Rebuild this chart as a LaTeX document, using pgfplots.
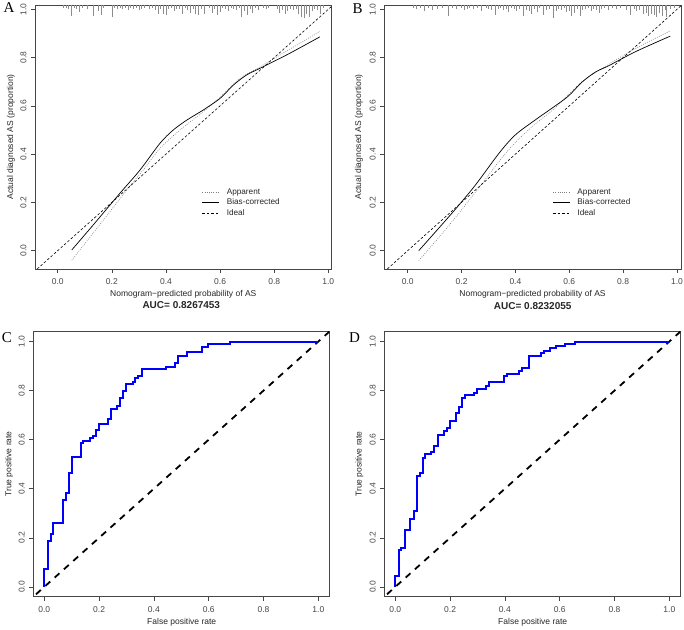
\documentclass[border=0pt]{standalone}
\usepackage{fontspec}
\setmainfont{Liberation Sans}
\newfontfamily\seriffont{Liberation Serif}
\usepackage{pgfplots}
\usepackage{pgfplotstable}
\pgfplotsset{compat=1.18}
\definecolor{rblue}{RGB}{0,0,255}
\definecolor{axgray}{RGB}{70,70,70}
\definecolor{rug}{RGB}{140,140,140}
\definecolor{appgray}{RGB}{125,125,125}

\pgfplotstableread{
x v
0.020 -0.012
0.030 -0.012
0.040 -0.017
0.050 -0.046
0.060 -0.012
0.070 -0.017
0.080 -0.029
0.090 -0.012
0.110 -0.017
0.130 -0.046
0.150 -0.025
0.160 -0.041
0.170 -0.012
0.200 -0.050
0.210 -0.012
0.220 -0.017
0.230 -0.012
0.240 -0.017
0.250 -0.012
0.260 -0.021
0.270 -0.012
0.280 -0.017
0.290 -0.012
0.300 -0.021
0.310 -0.017
0.320 -0.012
0.340 -0.017
0.350 -0.012
0.360 -0.021
0.370 -0.037
0.380 -0.017
0.390 -0.037
0.400 -0.041
0.410 -0.017
0.420 -0.012
0.430 -0.025
0.440 -0.017
0.450 -0.017
0.460 -0.037
0.470 -0.012
0.480 -0.021
0.490 -0.033
0.500 -0.017
0.510 -0.037
0.520 -0.041
0.530 -0.017
0.540 -0.037
0.560 -0.012
0.570 -0.033
0.580 -0.017
0.590 -0.041
0.600 -0.029
0.610 -0.012
0.620 -0.017
0.630 -0.025
0.640 -0.012
0.650 -0.017
0.660 -0.021
0.670 -0.012
0.680 -0.050
0.690 -0.025
0.700 -0.041
0.710 -0.017
0.720 -0.033
0.730 -0.012
0.740 -0.021
0.760 -0.012
0.770 -0.017
0.780 -0.012
0.810 -0.017
0.820 -0.033
0.830 -0.021
0.840 -0.037
0.850 -0.025
0.860 -0.017
0.870 -0.021
0.880 -0.017
0.890 -0.037
0.900 -0.050
0.910 -0.054
0.920 -0.037
0.930 -0.050
0.940 -0.025
0.950 -0.017
0.960 -0.021
0.970 -0.037
0.980 -0.012
}\rugA

\pgfplotstableread{
x v
0.020 -0.012
0.030 -0.017
0.045 -0.012
0.060 -0.025
0.075 -0.012
0.090 -0.021
0.110 -0.017
0.130 -0.012
0.150 -0.046
0.165 -0.012
0.180 -0.017
0.200 -0.012
0.210 -0.021
0.220 -0.017
0.230 -0.012
0.245 -0.017
0.260 -0.012
0.275 -0.025
0.290 -0.012
0.300 -0.017
0.310 -0.021
0.324 -0.041
0.335 -0.017
0.345 -0.012
0.355 -0.021
0.365 -0.017
0.375 -0.029
0.385 -0.012
0.395 -0.017
0.405 -0.025
0.415 -0.017
0.430 -0.046
0.440 -0.021
0.450 -0.025
0.460 -0.037
0.470 -0.017
0.480 -0.029
0.490 -0.012
0.504 -0.041
0.515 -0.021
0.525 -0.017
0.541 -0.054
0.550 -0.025
0.560 -0.017
0.570 -0.021
0.580 -0.012
0.590 -0.029
0.600 -0.025
0.609 -0.046
0.620 -0.033
0.630 -0.017
0.640 -0.046
0.650 -0.021
0.660 -0.017
0.670 -0.012
0.680 -0.025
0.690 -0.017
0.700 -0.021
0.710 -0.033
0.720 -0.017
0.730 -0.012
0.745 -0.021
0.760 -0.012
0.775 -0.017
0.790 -0.012
0.810 -0.021
0.825 -0.041
0.840 -0.017
0.850 -0.025
0.860 -0.021
0.875 -0.037
0.885 -0.033
0.895 -0.046
0.905 -0.037
0.915 -0.041
0.925 -0.050
0.935 -0.033
0.945 -0.046
0.955 -0.021
0.962 -0.050
0.975 -0.017
0.990 -0.012
}\rugB

\pgfplotsset{
  rpanel/.style={
    scale only axis,
    axis line style={axgray, line width=0.6pt},
    every tick/.style={axgray, line width=0.6pt},
    tick align=outside,
    major tick length=4pt,
    xtick pos=bottom, ytick pos=left,
    xtick={0,0.2,0.4,0.6,0.8,1},
    ytick={0,0.2,0.4,0.6,0.8,1},
    tick label style={font=\fontsize{8.5}{10}\selectfont, text=axgray},
    xticklabel style={anchor=center, yshift=-8.5pt},
    yticklabel style={xshift=-7.5pt, rotate=90, anchor=center},
    /pgf/number format/.cd, fixed, fixed zerofill, precision=1, assume math mode=true,
  },
  callegend/.style={
    legend style={draw=none, fill=none, inner sep=0pt,
      font=\fontsize{8.2}{9}\selectfont, text=black!85,
      row sep=1pt, nodes={inner sep=1pt}},
    legend cell align=left,
    legend image code/.code={\draw[##1] (0pt,0pt) -- (17pt,0pt); \path (23pt,0pt);},
  },
}

\begin{document}
\begin{tikzpicture}
\useasboundingbox (0pt,0pt) rectangle (684pt,629pt);

% ---------------- Panel A ----------------
\begin{axis}[rpanel, callegend, at={(35pt,360pt)}, anchor=south west,
  width=296pt, height=264pt,
  xmin=-0.084, xmax=1.01, ymin=-0.076, ymax=1.018,
  legend style={at={(axis cs:0.533,0.199)}, anchor=west}]
\addplot[forget plot, rug, line width=0.6pt, quiver={u=0, v=\thisrow{v}}]
  table[x=x, y expr=1.018] {\rugA};
\addplot[appgray, line width=0.6pt, dash pattern=on 0.8pt off 1.4pt, smooth, tension=0.5] coordinates {
 (0.052,-0.039) (0.150,0.100) (0.255,0.251) (0.320,0.340) (0.378,0.424)
 (0.452,0.500) (0.538,0.576) (0.600,0.636) (0.674,0.714) (0.748,0.762)
 (0.850,0.830) (0.969,0.908)};
\addlegendentry{Apparent}
\addplot[black, line width=0.7pt, smooth, tension=0.5] coordinates {
 (0.052,0.003) (0.130,0.105) (0.230,0.238) (0.304,0.334) (0.378,0.445)
 (0.427,0.500) (0.477,0.541) (0.538,0.583) (0.600,0.631) (0.649,0.686)
 (0.698,0.728) (0.748,0.756) (0.846,0.811) (0.969,0.886)};
\addlegendentry{Bias-corrected}
\addplot[black, line width=0.6pt, dash pattern=on 2.5pt off 2pt] coordinates {(-0.2,-0.2) (1.2,1.2)};
\addlegendentry{Ideal}
\end{axis}

% ---------------- Panel B ----------------
\begin{axis}[rpanel, callegend, at={(384.3pt,360pt)}, anchor=south west,
  width=296.7pt, height=264pt,
  xmin=-0.087, xmax=1.015, ymin=-0.076, ymax=1.018,
  legend style={at={(axis cs:0.538,0.199)}, anchor=west}]
\addplot[forget plot, rug, line width=0.6pt, quiver={u=0, v=\thisrow{v}}]
  table[x=x, y expr=1.018] {\rugB};
\addplot[appgray, line width=0.6pt, dash pattern=on 0.8pt off 1.4pt, smooth, tension=0.5] coordinates {
 (0.041,-0.041) (0.150,0.100) (0.250,0.240) (0.350,0.385) (0.410,0.460)
 (0.474,0.525) (0.548,0.592) (0.647,0.700) (0.746,0.772) (0.850,0.840)
 (0.975,0.911)};
\addlegendentry{Apparent}
\addplot[black, line width=0.7pt, smooth, tension=0.5] coordinates {
 (0.041,0.000) (0.164,0.155) (0.250,0.270) (0.340,0.405) (0.400,0.480)
 (0.474,0.542) (0.548,0.600) (0.598,0.642) (0.647,0.698) (0.697,0.740)
 (0.746,0.766) (0.845,0.824) (0.975,0.889)};
\addlegendentry{Bias-corrected}
\addplot[black, line width=0.6pt, dash pattern=on 2.5pt off 2pt] coordinates {(-0.2,-0.2) (1.2,1.2)};
\addlegendentry{Ideal}
\end{axis}

% ---------------- Panel C ----------------
\begin{axis}[rpanel, at={(33.3pt,32.3pt)}, anchor=south west,
  width=296pt, height=265pt,
  xmin=-0.04, xmax=1.04, ymin=-0.04, ymax=1.04]
\addplot[black, line width=1.8pt, dash pattern=on 6.5pt off 6pt] coordinates {(-0.2,-0.2) (1.2,1.2)};
\addplot[rblue, line width=2pt, const plot mark right] coordinates {
 (0,0) (0.012,0.071) (0.023,0.187) (0.033,0.214) (0.067,0.259) (0.079,0.354)
 (0.089,0.381) (0.101,0.463) (0.134,0.531) (0.142,0.585) (0.167,0.595)
 (0.179,0.606) (0.189,0.615) (0.200,0.640) (0.234,0.664) (0.243,0.683)
 (0.266,0.727) (0.276,0.738) (0.286,0.771) (0.298,0.797) (0.323,0.826)
 (0.331,0.836) (0.343,0.850) (0.355,0.861) (0.443,0.887) (0.477,0.895)
 (0.489,0.914) (0.522,0.942) (0.577,0.957) (0.599,0.976) (0.678,0.991)
 (1,1)};
\end{axis}

% ---------------- Panel D ----------------
\begin{axis}[rpanel, at={(384.3pt,32.3pt)}, anchor=south west,
  width=296pt, height=265pt,
  xmin=-0.04, xmax=1.04, ymin=-0.04, ymax=1.04]
\addplot[black, line width=1.8pt, dash pattern=on 6.5pt off 6pt] coordinates {(-0.2,-0.2) (1.2,1.2)};
\addplot[rblue, line width=2pt, const plot mark right] coordinates {
 (0,0) (0.012,0.044) (0.022,0.150) (0.034,0.159) (0.055,0.231) (0.067,0.275)
 (0.079,0.310) (0.091,0.452) (0.100,0.463) (0.109,0.524) (0.131,0.542)
 (0.143,0.551) (0.155,0.576) (0.176,0.619) (0.188,0.637) (0.200,0.646)
 (0.222,0.676) (0.233,0.710) (0.243,0.735) (0.255,0.769) (0.289,0.780)
 (0.297,0.789) (0.331,0.806) (0.342,0.817) (0.398,0.834) (0.409,0.860)
 (0.452,0.868) (0.463,0.879) (0.489,0.894) (0.531,0.942) (0.543,0.953)
 (0.564,0.962) (0.588,0.972) (0.618,0.982) (0.655,0.991) (1,1)};
\end{axis}

% ---------------- Text ----------------
\begin{scope}[every node/.style={inner sep=0pt, text=black!85}]
\node[font=\seriffont\fontsize{15}{15}\selectfont, text=black] at (9pt,621pt) {A};
\node[font=\seriffont\fontsize{15}{15}\selectfont, text=black] at (357.5pt,620pt) {B};
\node[font=\seriffont\fontsize{15}{15}\selectfont, text=black] at (7pt,291pt) {C};
\node[font=\seriffont\fontsize{15}{15}\selectfont, text=black] at (354.5pt,291pt) {D};

\node[font=\fontsize{8.5}{10}\selectfont] at (183.3pt,334.5pt) {Nomogram−predicted probability of AS};
\node[font=\fontsize{8.5}{10}\selectfont] at (532.5pt,334.5pt) {Nomogram−predicted probability of AS};
\node[font=\bfseries\fontsize{10}{12}\selectfont] at (181.3pt,324pt) {AUC= 0.8267453};
\node[font=\bfseries\fontsize{10}{12}\selectfont] at (532.7pt,323pt) {AUC= 0.8232055};
\node[font=\fontsize{8.5}{10}\selectfont, rotate=90] at (11pt,492pt) {Actual diagnosed AS (proportion)};
\node[font=\fontsize{8.5}{10}\selectfont, rotate=90] at (359pt,492pt) {Actual diagnosed AS (proportion)};

\node[font=\fontsize{8.5}{10}\selectfont] at (181.7pt,7pt) {False positive rate};
\node[font=\fontsize{8.5}{10}\selectfont] at (532.7pt,6.5pt) {False positive rate};
\node[font=\fontsize{8.5}{10}\selectfont, rotate=90] at (9.3pt,165pt) {True positive rate};
\node[font=\fontsize{8.5}{10}\selectfont, rotate=90] at (359.3pt,165pt) {True positive rate};
\end{scope}
\end{tikzpicture}
\end{document}
